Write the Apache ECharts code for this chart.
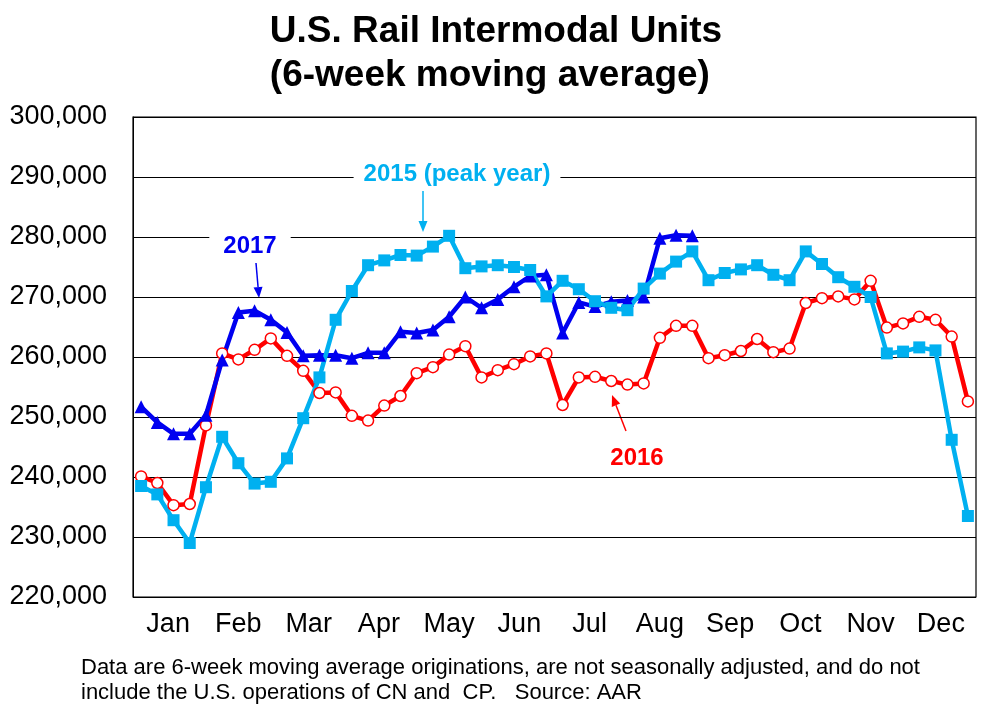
<!DOCTYPE html>
<html lang="en" style="height: 100%">
<head>
  <meta charset="utf-8">
</head>
<body style="height: 100%; margin: 0; background-color: #fff">
  <div id="container" style="width: 992px; height: 713px"></div>
  <script src="https://cdn.jsdelivr.net/npm/echarts@6.0.0/dist/echarts.min.js"></script>
  <script type="text/javascript">
    var weeks = [];
    for (var w = 1; w <= 52; w++) weeks.push('W' + w);
    var months = ['Jan', 'Feb', 'Mar', 'Apr', 'May', 'Jun', 'Jul', 'Aug', 'Sep', 'Oct', 'Nov', 'Dec'];

    // weekly 6-week moving average
    var units2015 = [238500, 237100, 232800, 229000, 238300, 246700, 242300, 238900, 239200, 243100,
      249800, 256600, 266200, 271000, 275300, 276100, 277000, 276900, 278400, 280200,
      274800, 275100, 275300, 275000, 274500, 270100, 272700, 271300, 269300, 268200,
      267800, 271400, 273900, 275900, 277600, 272800, 274000, 274600, 275300, 273700,
      272800, 277600, 275500, 273300, 271700, 270000, 260600, 260900, 261600, 261100,
      246200, 233500];
    var units2016 = [240100, 239000, 235300, 235500, 248600, 260600, 259600, 261200, 263100, 260200,
      257700, 254000, 254100, 250200, 249400, 251900, 253500, 257300, 258300, 260400,
      261800, 256600, 257800, 258800, 260100, 260600, 252000, 256600, 256700, 256000,
      255400, 255600, 263200, 265200, 265200, 259800, 260300, 261000, 263000, 260800,
      261400, 269000, 269800, 270100, 269600, 272700, 264900, 265600, 266700, 266200,
      263400, 252600];
    var units2017 = [251700, 249100, 247200, 247200, 250300, 259500, 267400, 267700, 266200, 264100,
      260200, 260300, 260300, 259800, 260700, 260700, 264200, 264000, 264500, 266700,
      270000, 268200, 269600, 271700, 273500, 273700, 264000, 269100, 268400, 269200,
      269400, 270000, 279800, 280300, 280200];

    var C2015 = '#00B0F0', C2016 = '#FF0000', C2017 = '#0000F0';

    //-----arrow helper-------
    function arrow(x1, y1, x2, y2, color) {
      var dx = x2 - x1, dy = y2 - y1;
      var len = Math.sqrt(dx * dx + dy * dy);
      var ux = dx / len, uy = dy / len;
      var hl = 11, hw = 4.5;
      var bx = x2 - ux * hl, by = y2 - uy * hl;
      return [{
        type: 'line',
        shape: { x1: x1, y1: y1, x2: bx, y2: by },
        style: { stroke: color, lineWidth: 1.5 }
      }, {
        type: 'polygon',
        shape: { points: [[x2, y2], [bx - uy * hw, by + ux * hw], [bx + uy * hw, by - ux * hw]] },
        style: { fill: color }
      }];
    }

    function label(text, x, y, color, padX) {
      return {
        type: 'text',
        x: x, y: y,
        z: 10,
        style: {
          text: text,
          fill: color,
          font: 'bold 24px "Liberation Sans", Arial, sans-serif',
          align: 'center',
          verticalAlign: 'middle',
          backgroundColor: '#fff',
          padding: [2, padX]
        }
      };
    }

    var dom = document.getElementById('container');
    var myChart = echarts.init(dom, null, { renderer: 'canvas' });

    var graphics = [
      {
        type: 'text', left: 'center', top: 10,
        style: {
          text: 'U.S. Rail Intermodal Units\n(6-week moving average)',
          fill: '#000',
          font: 'bold 37px "Liberation Sans", Arial, sans-serif',
          align: 'center',
          lineHeight: 44
        }
      },
      {
        type: 'text', x: 81, y: 655,
        style: {
          text: 'Data are 6-week moving average originations, are not seasonally adjusted, and do not\ninclude the U.S. operations of CN and  CP.   Source: AAR',
          fill: '#000',
          font: '22px "Liberation Sans", Arial, sans-serif',
          lineHeight: 25
        }
      },
      label('2015 (peak year)', 457, 174, C2015, 10),
      label('2017', 250, 246, C2017, 14),
      label('2016', 637, 458, C2016, 13)
    ];
    graphics = graphics
      .concat(arrow(423, 191, 423, 232, C2015))
      .concat(arrow(256, 263, 259, 298, C2017))
      .concat(arrow(626, 431, 612, 395, C2016));

    function lineSeries(name, data, color, symbol, size, fill) {
      return {
        name: name,
        type: 'line',
        xAxisIndex: 0,
        data: data,
        symbol: symbol,
        symbolSize: size,
        showAllSymbol: true,
        lineStyle: { color: color, width: 4.5 },
        itemStyle: { color: fill, borderColor: color, borderWidth: fill === '#fff' ? 1.5 : 0 },
        emphasis: { disabled: true },
        animation: false
      };
    }

    var option = {
      animation: false,
      grid: {
        left: 133, right: 16, top: 117, bottom: 116,
        show: true, borderColor: '#000', borderWidth: 1.2
      },
      xAxis: [{
        type: 'category',
        data: weeks,
        boundaryGap: true,
        axisLine: { show: false },
        axisTick: { show: false },
        axisLabel: { show: false }
      }, {
        type: 'category',
        data: months,
        position: 'bottom',
        boundaryGap: true,
        axisLine: { show: false },
        axisTick: { show: false },
        axisLabel: {
          margin: 14,
          color: '#000',
          fontSize: 27,
          fontFamily: '"Liberation Sans", Arial, sans-serif'
        }
      }],
      yAxis: {
        type: 'value',
        min: 220000,
        max: 300000,
        interval: 10000,
        axisLine: { show: true, lineStyle: { color: '#000' } },
        axisTick: { show: false },
        splitLine: { lineStyle: { color: '#000', width: 1.2 } },
        axisLabel: {
          margin: 26,
          color: '#000',
          fontSize: 27,
          fontFamily: '"Liberation Sans", Arial, sans-serif',
          formatter: function (v) { return v.toLocaleString('en-US'); }
        }
      },
      series: [
        lineSeries('2016', units2016, C2016, 'circle', 11, '#fff'),
        lineSeries('2017', units2017, C2017, 'triangle', 13, C2017),
        lineSeries('2015', units2015, C2015, 'rect', 12, C2015)
      ],
      graphic: graphics
    };

    myChart.setOption(option);
    window.addEventListener('resize', myChart.resize);
  </script>
</body>
</html>
